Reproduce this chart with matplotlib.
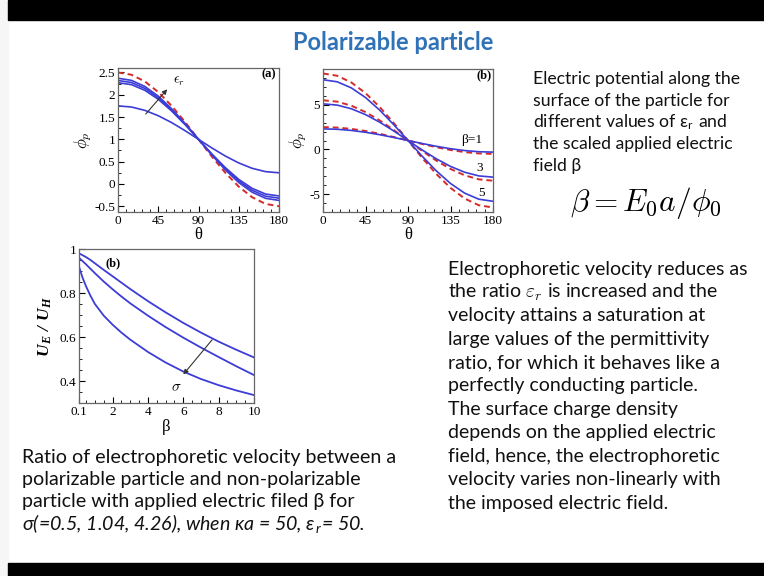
import matplotlib
matplotlib.use("Agg")
import matplotlib.pyplot as plt
from matplotlib.ticker import AutoMinorLocator, MultipleLocator, FormatStrFormatter

plt.rcParams['mathtext.fontset'] = 'cm'
plt.rcParams['axes.unicode_minus'] = False

W, H = 764, 576

# panel (a): potential along surface for different eps_r
theta = [0, 15, 30, 45, 60, 75, 90, 105, 120, 135, 150, 165, 180]
phi_a_red = [2.5, 2.449, 2.299, 2.061, 1.75, 1.388, 1.0, 0.612, 0.25, -0.061, -0.299, -0.449, -0.5]
phi_a_blue = [
    [2.37, 2.323, 2.186, 1.969, 1.685, 1.355, 1.0, 0.645, 0.315, 0.031, -0.186, -0.323, -0.37],
    [2.32, 2.275, 2.143, 1.933, 1.66, 1.342, 1.0, 0.658, 0.34, 0.067, -0.143, -0.275, -0.32],
    [2.27, 2.227, 2.10, 1.898, 1.635, 1.329, 1.0, 0.671, 0.365, 0.102, -0.10, -0.227, -0.27],
    [1.75, 1.725, 1.65, 1.53, 1.375, 1.194, 1.0, 0.806, 0.625, 0.47, 0.35, 0.275, 0.25],
]

# panel (b): potential for beta = 1, 3, 5
beta_labels = ["β=1", "3", "5"]
phi_b_red = [
    [2.5, 2.449, 2.299, 2.061, 1.75, 1.388, 1.0, 0.612, 0.25, -0.061, -0.299, -0.449, -0.5],
    [5.5, 5.347, 4.897, 4.182, 3.25, 2.166, 1.0, -0.166, -1.25, -2.182, -2.897, -3.347, -3.5],
    [8.5, 8.245, 7.495, 6.303, 4.75, 2.943, 1.0, -0.943, -2.75, -4.303, -5.495, -6.245, -6.5],
]
phi_b_blue = [
    [2.3, 2.256, 2.126, 1.919, 1.65, 1.337, 1.0, 0.663, 0.35, 0.081, -0.126, -0.256, -0.3],
    [5.1, 4.961, 4.551, 3.899, 3.05, 2.062, 1.0, -0.062, -1.05, -1.899, -2.551, -2.961, -3.1],
    [7.8, 7.569, 6.889, 5.808, 4.4, 2.761, 1.0, -0.761, -2.4, -3.808, -4.889, -5.569, -5.8],
]

# lower panel: velocity ratio vs beta for sigma = 0.5, 1.04, 4.26
beta = [0.1, 0.3, 0.5, 0.75, 1, 1.5, 2, 2.5, 3, 4, 5, 6, 7, 8, 9, 10]
ratio = [
    [0.98, 0.972, 0.963, 0.95, 0.935, 0.905, 0.876, 0.847, 0.818, 0.763, 0.712, 0.664, 0.620, 0.579, 0.542, 0.507],
    [0.96, 0.945, 0.93, 0.91, 0.89, 0.852, 0.817, 0.784, 0.753, 0.697, 0.645, 0.597, 0.552, 0.509, 0.467, 0.427],
    [0.92, 0.87, 0.83, 0.787, 0.75, 0.697, 0.656, 0.620, 0.588, 0.532, 0.484, 0.443, 0.409, 0.381, 0.357, 0.336],
]

BLUE = '#3c3cd6'
RED = '#d42a2a'
SERIF = 'Liberation Serif'
SANS = ['Lato', 'DejaVu Sans']
TXT = '#111111'


def rect(x0, y0, x1, y1):
    return [x0 / W, 1 - y1 / H, (x1 - x0) / W, (y1 - y0) / H]


def style(ax):
    ax.tick_params(which='both', direction='in', labelsize=9.5, pad=2)
    ax.tick_params(which='major', length=4)
    ax.tick_params(which='minor', length=2)
    ax.tick_params(top=False, right=False)
    for lab in ax.get_xticklabels() + ax.get_yticklabels():
        lab.set_fontfamily(SERIF)
    for s in ax.spines.values():
        s.set_linewidth(0.9)
        s.set_color('#666666')


fig = plt.figure(figsize=(W / 100, H / 100), dpi=100)

# slide frame
fig.patches.append(plt.Rectangle((0, 0), 8 / W, 1, transform=fig.transFigure, color='#f6f6f6', zorder=0))
fig.patches.append(plt.Rectangle((8 / W, 1 - 20 / H), 1, 20 / H, transform=fig.transFigure, color='black', zorder=1))
fig.patches.append(plt.Rectangle((8 / W, 0), 1, 13 / H, transform=fig.transFigure, color='black', zorder=1))

fig.text(393 / W, 1 - 42 / H, "Polarizable particle", ha='center', va='center',
         fontsize=17, fontweight='bold', color='#2f72b8', family=SANS)

# panel (a)
ax1 = fig.add_axes(rect(118, 68, 279, 212))
ax1.plot(theta, phi_a_red, color=RED, ls=(0, (3, 2)), lw=1.4)
for yb in phi_a_blue:
    ax1.plot(theta, yb, color=BLUE, lw=1.2)
ax1.set_xlim(0, 180)
ax1.set_ylim(-0.63, 2.6)
ax1.xaxis.set_major_locator(MultipleLocator(45))
ax1.xaxis.set_minor_locator(AutoMinorLocator(5))
ax1.yaxis.set_major_locator(MultipleLocator(0.5))
ax1.yaxis.set_major_formatter(FormatStrFormatter('%g'))
ax1.yaxis.set_minor_locator(AutoMinorLocator(2))
style(ax1)
ax1.set_xlabel('θ', fontsize=12, family=SERIF, labelpad=0)
ax1.set_ylabel(r'$\phi_p$', fontsize=12, labelpad=0)
ax1.text(168, 2.45, '(a)', fontsize=9, fontweight='bold', family=SERIF, ha='center', va='center')
ax1.annotate('', xy=(57, 2.17), xytext=(29, 1.52),
             arrowprops=dict(arrowstyle='-|>', color='#333333', lw=0.8, mutation_scale=7))
ax1.text(62, 2.3, r'$\epsilon_r$', fontsize=10, ha='left', va='center')

# panel (b)
ax2 = fig.add_axes(rect(323, 69, 493, 212))
for yr, yb in zip(phi_b_red, phi_b_blue):
    ax2.plot(theta, yr, color=RED, ls=(0, (3, 2)), lw=1.4)
    ax2.plot(theta, yb, color=BLUE, lw=1.2)
ax2.set_xlim(0, 180)
ax2.set_ylim(-7, 9)
ax2.xaxis.set_major_locator(MultipleLocator(45))
ax2.xaxis.set_minor_locator(AutoMinorLocator(5))
ax2.yaxis.set_major_locator(MultipleLocator(5))
ax2.yaxis.set_minor_locator(AutoMinorLocator(5))
style(ax2)
ax2.set_xlabel('θ', fontsize=12, family=SERIF, labelpad=0)
ax2.set_ylabel(r'$\phi_p$', fontsize=12, labelpad=0)
ax2.text(171, 8.3, '(b)', fontsize=9, fontweight='bold', family=SERIF, ha='center', va='center')
for lab, (lx, ly) in zip(beta_labels, [(157, 1.05), (166, -2.1), (168, -4.9)]):
    ax2.text(lx, ly, lab, fontsize=9.5, family=SERIF, ha='center', va='center')

# lower panel
ax3 = fig.add_axes(rect(79, 249, 254, 403))
for yv in ratio:
    ax3.plot(beta, yv, color=BLUE, lw=1.3)
ax3.set_xlim(0.1, 10)
ax3.set_ylim(0.3, 1.0)
ax3.set_xticks([0.1, 2, 4, 6, 8, 10])
ax3.set_xticklabels(['0.1', '2', '4', '6', '8', '10'])
ax3.xaxis.set_minor_locator(MultipleLocator(0.5))
ax3.set_yticks([0.4, 0.6, 0.8, 1.0])
ax3.set_yticklabels(['0.4', '0.6', '0.8', '1'])
ax3.yaxis.set_minor_locator(MultipleLocator(0.05))
style(ax3)
ax3.set_xlabel('β', fontsize=12, family=SERIF, labelpad=1)
ax3.set_ylabel(r'U$_\mathregular{E}$ / U$_\mathregular{H}$', fontsize=12.5, family=SERIF,
               fontweight='bold', style='italic', labelpad=4)
ax3.text(2.05, 0.936, '(b)', fontsize=9, fontweight='bold', family=SERIF, ha='center', va='center')
ax3.annotate('', xy=(5.9, 0.42), xytext=(7.73, 0.597),
             arrowprops=dict(arrowstyle='-|>', color='#333333', lw=0.8, mutation_scale=7))
ax3.text(5.6, 0.374, r'$\sigma$', fontsize=11, ha='center', va='center')

# right-hand texts
top_lines = ["Electric potential along the",
             "surface of the particle for",
             r"different values of ε$_\mathregular{r}$ and",
             "the scaled applied electric",
             "field β"]
for i, s in enumerate(top_lines):
    fig.text(533 / W, 1 - (79 + i * 21.7) / H, s, fontsize=12.7, family=SANS, color=TXT, va='center')

fig.text(646 / W, 1 - 203 / H, r'$\beta = E_0 a/\phi_0$', fontsize=22.5, ha='center', va='center')

mid_lines = ["Electrophoretic velocity reduces as",
             r"the ratio $\varepsilon_r$ is increased and the",
             "velocity attains a saturation at",
             "large values of the permittivity",
             "ratio, for which it behaves like a",
             "perfectly conducting particle.",
             "The surface charge density",
             "depends on the applied electric",
             "field, hence, the electrophoretic",
             "velocity varies non-linearly with",
             "the imposed electric field."]
for i, s in enumerate(mid_lines):
    fig.text(448 / W, 1 - (269 + i * 23.4) / H, s, fontsize=14, family=SANS, color=TXT, va='center')

low_lines = ["Ratio of electrophoretic velocity between a",
             "polarizable particle and non-polarizable",
             "particle with applied electric filed β for"]
for i, s in enumerate(low_lines):
    fig.text(22 / W, 1 - (457 + i * 22.3) / H, s, fontsize=14.1, family=SANS, color=TXT, va='center')
fig.text(22 / W, 1 - 524 / H, r"σ(=0.5, 1.04, 4.26), when κa = 50, ε$_\mathregular{r}$= 50.",
         fontsize=14.1, family=SANS, style='italic', color=TXT, va='center')

fig.savefig('out.png', dpi=100)
